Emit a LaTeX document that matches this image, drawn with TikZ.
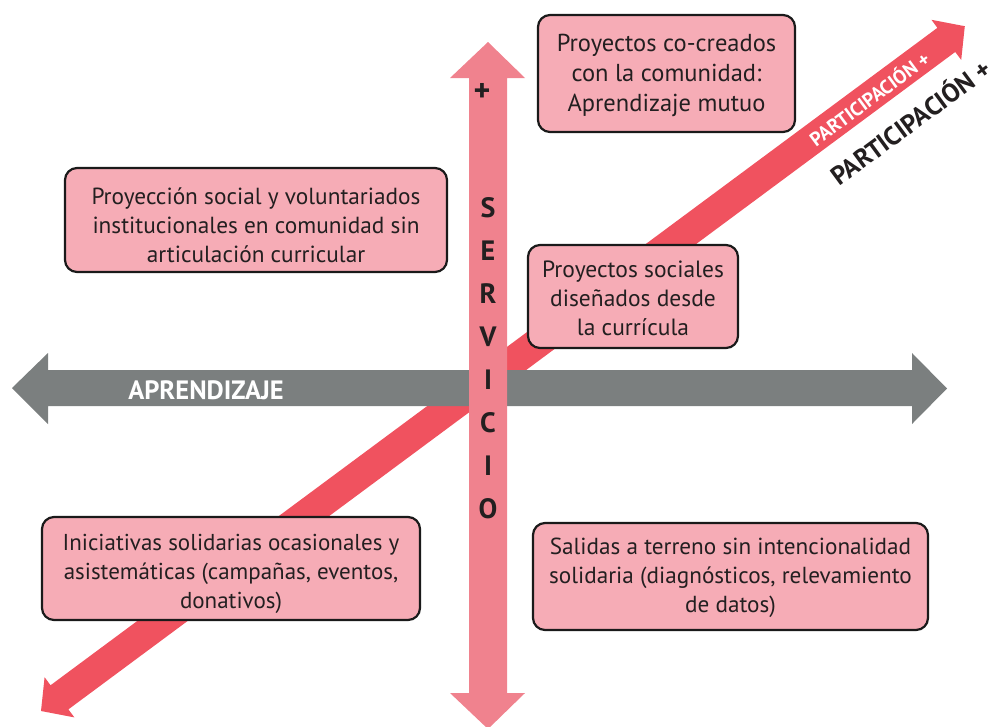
\documentclass[tikz,border=0pt]{standalone}
\usepackage{fontspec}
\setmainfont{PT Sans}
\definecolor{boxfill}{HTML}{F6ACB6}
\definecolor{boxline}{HTML}{1A1A1A}
\definecolor{textcol}{HTML}{231F20}
\definecolor{pinkarrow}{HTML}{F0828E}
\definecolor{redarrow}{HTML}{F0525F}
\definecolor{grayarrow}{HTML}{7B7F7F}
\begin{document}
\begin{tikzpicture}[x=1pt,y=-1pt,
  box/.style={draw=boxline, line width=2.2pt, fill=boxfill, rounded corners=12pt, inner sep=0pt},
  boxtext/.style={inner sep=0pt, align=center, text=textcol, font=\fontsize{#1}{29}\selectfont},
  bold/.style={font=\bfseries\fontsize{#1}{#1}\selectfont, inner sep=0pt}]
\useasboundingbox (0,0) rectangle (1000,726);
% diagonal arrow (participacion)
\begin{scope}[shift={(41,711)}, rotate=36.55, y=1pt]
  \fill[redarrow] (0,0) -- (23,25) -- (23,15) -- (1127,15) -- (1127,25) -- (1150,0)
    -- (1127,-25) -- (1127,-15) -- (23,-15) -- (23,-25) -- cycle;
\end{scope}
% horizontal arrow (aprendizaje)
\fill[grayarrow] (12,388) -- (48,353) -- (48,370) -- (912,370) -- (912,353) -- (947,388.5)
  -- (912,424) -- (912,406) -- (48,406) -- (48,424) -- cycle;
% vertical arrow (servicio)
\fill[pinkarrow] (488,42) -- (525,78) -- (507,78) -- (507,693) -- (525,693) -- (488,729)
  -- (450,693) -- (469,693) -- (469,78) -- (450,78) -- cycle;
% labels on arrows
\node[bold=26.5, text=white] (aprendizaje) at (206,390) {APRENDIZAJE};
\node[text=textcol, align=center, inner sep=0pt, font=\bfseries\fontsize{28}{43}\selectfont] (servicio) at (488,358)
  {S\\E\\R\\V\\I\\C\\I\\O};
\node[bold=32, text=textcol] (plus) at (482,92) {+};
\node[bold=19.5, text=white, rotate=36.5] (partin) at (869,98) {PARTICIPACIÓN +};
\node[bold=26, text=textcol, rotate=36.3] (partout) at (910,121) {PARTICIPACIÓN +};
% boxes
\node[box, minimum width=257pt, minimum height=117pt] (b1) at (666.5,73.5) {};
\node[boxtext=24.5, font=\fontsize{24.5}{30}\selectfont] (t1) at ([yshift=-2]b1.center)
  {Proyectos co-creados\\con la comunidad:\\Aprendizaje mutuo};
\node[box, minimum width=382pt, minimum height=104pt] (b2) at (256,220) {};
\node[boxtext=23.3] (t2) at ([yshift=-5]b2.center)
  {Proyección social y voluntariados\\institucionales en comunidad sin\\articulación curricular};
\node[box, minimum width=210pt, minimum height=103pt] (b3) at (633,296.5) {};
\node[boxtext=23.5] (t3) at ([yshift=-2]b3.center)
  {Proyectos sociales\\diseñados desde\\la currícula};
\node[box, minimum width=378pt, minimum height=103pt] (b4) at (231,568.5) {};
\node[boxtext=23] (t4) at ([yshift=-5]b4.center)
  {Iniciativas solidarias ocasionales y\\asistemáticas (campañas, eventos,\\donativos)};
\node[box, minimum width=395pt, minimum height=107pt] (b5) at (730.5,576.5) {};
\node[boxtext=23.2] (t5) at ([yshift=-1]b5.center)
  {Salidas a terreno sin intencionalidad\\solidaria (diagnósticos, relevamiento\\de datos)};
\end{tikzpicture}
\end{document}
